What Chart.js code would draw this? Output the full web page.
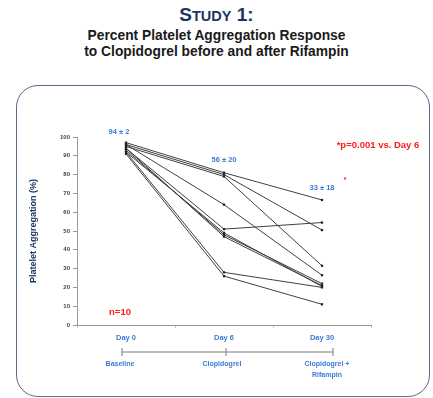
<!DOCTYPE html>
<html>
<head>
<meta charset="utf-8">
<script src="https://cdn.jsdelivr.net/npm/chart.js@4.4.1/dist/chart.umd.min.js"></script>
<style>
  body { margin: 0; background: #fff; font-family: "Liberation Sans", Arial, sans-serif; }
  #wrap { position: relative; width: 433px; height: 398px; overflow: hidden; }
  #head { position: absolute; top: 5px; left: 0; width: 433px; text-align: center;
          font-weight: bold; font-size: 19px; line-height: 20px; color: #1d3563; }
  #head span { font-size: 14.5px; }
  #sub { position: absolute; top: 28px; left: 0; width: 433px; text-align: center;
         font-weight: bold; font-size: 13.8px; line-height: 16px; color: #1a1a1a; }
  #panel { position: absolute; left: 16px; top: 85px; width: 412px; height: 310px;
           border: 1.3px solid #5d6a88; border-radius: 22px; }
  canvas { position: absolute; left: 0; top: 0; }
</style>
</head>
<body>
<div id="wrap">
  <div id="head">S<span>TUDY</span> 1:</div>
  <div id="sub">Percent Platelet Aggregation Response<br>to Clopidogrel before and after Rifampin</div>
  <div id="panel"></div>
  <canvas id="chart" width="433" height="398"></canvas>
</div>
<script>
// days on the x axis and the treatment phase under each
const days = ["Day 0", "Day 6", "Day 30"];
const phases = [["Baseline"], ["Clopidogrel"], ["Clopidogrel +", "Rifampin"]];
const meanLabels = ["94 \u00b1 2", "56 \u00b1 20", "33 \u00b1 18"];

// one value per patient (n=10), same order in each array
const day0 = [97, 96, 95, 96, 94, 93, 92, 94, 92, 91];
const day6 = [81, 80, 79, 64, 51, 48, 49, 47, 28, 26];
const day30 = [66.5, 50.5, 31.5, 26.5, 54.5, 22, 20.5, 21, 20, 11];

const FONT = '"Liberation Sans", Arial, sans-serif';
const BLUE = "#3b7ad6";

const datasets = day0.map((v, i) => ({
  data: [v, day6[i], day30[i]],
  borderColor: "#404040",
  borderWidth: 1,
  pointStyle: "rect",
  pointRadius: 1.6,
  pointBackgroundColor: "#222",
  pointBorderColor: "#222",
  pointBorderWidth: 0,
  tension: 0,
}));

const extras = {
  id: "extras",
  afterDraw(chart) {
    const ctx = chart.ctx;
    const x = chart.scales.x, y = chart.scales.y;
    ctx.save();
    ctx.textAlign = "center";
    ctx.textBaseline = "middle";

    // mean +/- sd above each day
    ctx.fillStyle = BLUE;
    ctx.font = "bold 7.5px " + FONT;
    ctx.fillText(meanLabels[0], x.getPixelForValue(0) - 7, y.getPixelForValue(102.5));
    ctx.fillText(meanLabels[1], x.getPixelForValue(1), y.getPixelForValue(88));
    ctx.fillText(meanLabels[2], x.getPixelForValue(2), y.getPixelForValue(73));

    ctx.fillStyle = "#ff1a1a";
    ctx.font = "bold 7px " + FONT;
    ctx.fillText("*", x.getPixelForValue(2) + 23, y.getPixelForValue(77));
    ctx.font = "bold 9.5px " + FONT;
    ctx.fillText("*p=0.001 vs. Day 6", 378, 145);
    ctx.font = "bold 9.5px " + FONT;
    ctx.fillText("n=10", x.getPixelForValue(0) - 6, y.getPixelForValue(6.5));

    // timeline bracket under the axis
    const by = 352;
    const xs = [122, 226, 333];
    ctx.strokeStyle = "#7a7a7a";
    ctx.lineWidth = 1;
    ctx.beginPath();
    ctx.moveTo(xs[0], by); ctx.lineTo(xs[2], by);
    xs.forEach(px => { ctx.moveTo(px, by - 4); ctx.lineTo(px, by + 4); });
    ctx.stroke();

    ctx.fillStyle = BLUE;
    ctx.font = "bold 7px " + FONT;
    const cx = [120, 222, 327];
    phases.forEach((lines, i) => {
      lines.forEach((t, j) => ctx.fillText(t, cx[i], 364 + j * 11));
    });
    ctx.restore();
  }
};

new Chart(document.getElementById("chart"), {
  type: "line",
  data: { labels: days, datasets },
  plugins: [extras],
  options: {
    responsive: false,
    animation: false,
    layout: { padding: { left: 0, right: 62, top: 137, bottom: 0 } },
    plugins: { legend: { display: false }, tooltip: { enabled: false } },
    scales: {
      x: {
        type: "category",
        offset: true,
        grid: { offset: true, drawOnChartArea: false, tickLength: 3, color: "#c8c8c8" },
        border: { color: "#9a9a9a", width: 1 },
        ticks: { color: BLUE, font: { family: FONT, size: 7.5, weight: "bold" }, padding: 5 },
        afterFit(s) { s.height = 73; },
      },
      y: {
        min: 0,
        max: 100,
        grid: { drawOnChartArea: false, tickLength: 4, color: "#9a9a9a" },
        border: { color: "#9a9a9a", width: 1 },
        ticks: { stepSize: 10, color: "#444", font: { family: FONT, size: 6, weight: "bold" }, padding: 3 },
        title: {
          display: true,
          text: "Platelet Aggregation (%)",
          color: "#1d3563",
          font: { family: FONT, size: 9, weight: "bold" },
          padding: { top: 28, bottom: 0 },
        },
        afterFit(s) { s.width = 77; },
      },
    },
  },
});
</script>
</body>
</html>
